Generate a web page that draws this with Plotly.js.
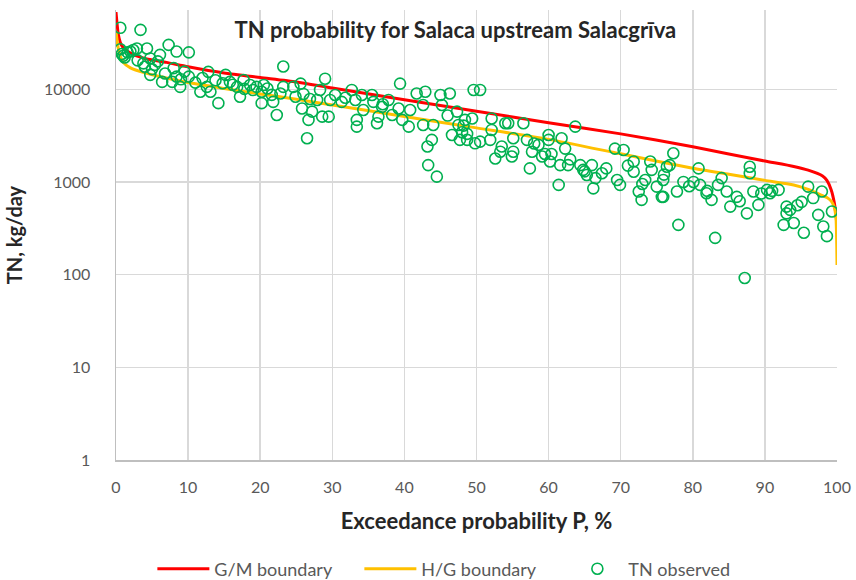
<!DOCTYPE html>
<html>
<head>
<meta charset="utf-8">
<script src="https://cdn.plot.ly/plotly-3.0.1.min.js"></script>
<style>
  html, body { margin: 0; padding: 0; background: #ffffff; }
  #chart { width: 856px; height: 580px; }
</style>
</head>
<body>
<div id="chart"></div>
<script>
// Exceedance probability (%) grid for the two boundary curves
const boundaryP = [0, 0.3, 0.6, 1, 2, 4, 7, 10, 15, 20, 25, 30, 40, 50, 60, 70, 80, 85, 90, 94, 96, 98, 98.6, 99.2, 99.6, 99.85, 100];

// G/M boundary, TN kg/day
const gmBoundary = [68000, 40000, 32000, 28000, 24500, 21500, 19500, 17500, 15000, 13400, 12000, 10300, 7700, 5800, 4350, 3300, 2400, 2000, 1680, 1470, 1340, 1160, 1040, 820, 610, 450, 330];

// H/G boundary, TN kg/day
const hgBoundary = [42000, 28000, 22500, 19500, 17000, 15000, 13200, 11800, 10200, 8900, 7800, 6770, 5090, 3830, 2880, 2010, 1406, 1210, 1040, 927, 830, 710, 680, 620, 540, 420, 127];

// Observed TN loads: exceedance probability (%) and TN (kg/day)
const obsP = [
  0.6, 3.4, 0.6, 0.8, 2.0, 2.9, 4.3, 4.75, 5.4, 6.1, 7.3, 8.4, 10.1, 4.75, 6.4, 8.0, 8.4, 7.8, 8.9, 10.1,
  11.7, 12.8, 12.6, 13.1, 14.2, 15.2, 15.8, 16.8, 17.2, 17.7, 18.6, 19.5, 20.2, 20.5, 21.6, 20.2, 21.8, 22.3, 23.2, 23.2,
  24.6, 24.9, 1.2, 1.6, 3.0, 3.8, 5.0, 5.8, 6.8, 9.5, 11.0, 13.8, 16.2, 19.0, 21.0, 22.8,
  25.6, 25.8, 26.9, 27.2, 26.7, 26.5, 27.9, 28.3, 29.0, 28.6, 29.5, 29.7, 30.4, 31.3, 32.7, 33.2, 33.4, 33.4, 34.1, 34.3,
  35.5, 35.7, 36.2, 36.4, 36.9, 37.8, 38.3, 39.2, 39.4, 39.7, 40.6, 40.8, 41.7, 42.6, 42.9, 42.6, 43.2, 43.8, 43.3, 44.5,
  44.0, 45.0, 45.2, 46.3, 46.6, 47.3, 47.5, 47.7, 48.0, 48.4, 48.7, 48.7, 49.4, 49.6, 49.8, 50.5, 50.5,
  52.1, 52.1, 51.9, 54.0, 54.4, 53.5, 52.6, 53.3, 55.1, 55.1, 54.9, 56.5, 57.0, 57.7, 57.4, 58.6, 59.1, 60.0, 60.0, 60.4,
  60.2, 61.4, 61.8, 62.3, 61.6, 62.7, 63.7, 64.4, 64.8, 65.3, 66.0, 66.2, 67.4, 69.5, 69.9, 69.2, 70.4, 71.8, 71.8, 72.5,
  72.9, 73.4, 74.1, 74.3, 75.0, 75.7, 75.9, 76.4, 77.3, 76.8, 75.9, 77.8, 78.7, 78.0, 80.1, 80.8, 81.0, 81.9, 82.6, 83.1,
  83.5, 84.0, 84.7, 85.2, 86.1, 87.5, 87.2, 87.9, 87.9, 88.4, 89.1, 90.3, 90.7, 91.9, 93.0, 93.0, 93.5, 92.6, 94.0, 95.1,
  95.4, 96.0, 96.7, 97.4, 97.9, 98.1, 98.6, 99.3,
  58.0, 59.5, 63.0, 65.0, 66.5, 68.0, 71.0, 73.0, 76.0, 79.5, 82.0, 86.5, 89.5, 91.0, 94.5,
  1.0, 2.4, 4.0, 9.0, 12.0, 14.8, 17.8, 26.0, 31.8, 37.0, 46.0, 48.2
];
const obsTN = [
  46000, 43700, 27000, 24000, 25500, 27500, 27500, 21500, 18300, 23500, 30100, 25500, 25000, 14300, 12000, 16900, 13700, 12000, 10600, 13700,
  9400, 15400, 10600, 9400, 7080, 14300, 12000, 10600, 8300, 12600, 11100, 10600, 9400, 11100, 8700, 7080, 7300, 5280, 17600, 10600,
  10600, 8300, 22000, 25000, 20500, 19000, 16500, 20000, 14800, 15500, 11800, 12500, 11200, 9800, 10200, 9000,
  11500, 6200, 7850, 5730, 4670, 2960, 7670, 9830, 13000, 5060, 5060, 7670, 8680, 7300, 9830, 7670, 4670, 3950, 8680, 5980,
  8680, 7300, 4300, 5060, 6460, 7670, 5280, 6200, 11500, 4670, 3950, 5980, 8990, 4120, 9400, 6770, 2410, 2840, 1520, 1140,
  4120, 8680, 6770, 8990, 3210, 5730, 4120, 2840, 3440, 4670, 3300, 2840, 4840, 9830, 2610, 9830, 2720,
  4840, 3640, 2840, 4300, 4300, 2410, 1790, 2120, 2960, 2120, 1880, 4300, 2840, 2120, 1400, 2510, 1880, 3210, 2840, 2000,
  1660, 929, 2960, 2290, 1520, 1520, 3950, 1520, 1350, 1190, 1520, 853, 1240, 1050, 929, 2290, 2210, 1660, 1290, 788,
  640, 1050, 1660, 1350, 890, 690, 1050, 1460, 2040, 1520, 690, 788, 1000, 344, 1000, 1400, 929, 755, 640, 249,
  929, 1100, 788, 542, 690, 458, 92, 1460, 1240, 788, 565, 820, 755, 820, 542, 458, 499, 344, 361, 610,
  283, 890, 670, 441, 788, 330, 260, 480,
  2600, 2000, 1750, 1300, 1100, 1400, 1500, 950, 1200, 900, 800, 620, 750, 800, 560,
  23000, 26500, 17500, 12800, 13200, 11600, 10100, 8900, 8100, 6900, 5200, 4050
];

const labelFont = 'Lato, "Open Sans", "DejaVu Sans", sans-serif';

const traces = [
  {
    x: boundaryP, y: gmBoundary, name: 'G/M boundary',
    type: 'scatter', mode: 'lines', line: { color: '#ff0000', width: 3, shape: 'spline', smoothing: 0.6 }
  },
  {
    x: boundaryP, y: hgBoundary, name: 'H/G boundary',
    type: 'scatter', mode: 'lines', line: { color: '#ffc000', width: 3, shape: 'spline', smoothing: 0.6 }
  },
  {
    x: obsP, y: obsTN, name: 'TN observed',
    type: 'scatter', mode: 'markers',
    marker: { symbol: 'circle-open', size: 11, color: '#00b050', line: { width: 1.6, color: '#00b050' } }
  }
];

const layout = {
  width: 856, height: 580,
  paper_bgcolor: '#ffffff', plot_bgcolor: '#ffffff',
  margin: { l: 116, r: 19, t: 10, b: 120 },
  font: { family: labelFont, color: '#595959', size: 16 },
  title: {
    text: '<b>TN probability for Salaca upstream Salacgrīva</b>',
    font: { family: labelFont, size: 22, color: '#262626' },
    xref: 'container', yref: 'container', x: 0.532, y: 0.948, xanchor: 'center', yanchor: 'middle'
  },
  xaxis: {
    range: [0, 100], dtick: 10, tick0: 0,
    showgrid: true, gridcolor: '#d9d9d9', gridwidth: 1.5,
    showline: true, linecolor: '#bfbfbf', linewidth: 1.5, mirror: false,
    zeroline: false, ticks: '', ticklabelstandoff: 12,
    tickfont: { family: labelFont, size: 16, color: '#595959' },
    title: { text: '<b>Exceedance probability P, %</b>', font: { family: labelFont, size: 22, color: '#262626' }, standoff: 19 }
  },
  yaxis: {
    type: 'log', range: [0, 4.855],
    tickvals: [1, 10, 100, 1000, 10000], ticktext: ['1', '10', '100', '1000', '10000'],
    showgrid: true, gridcolor: '#d9d9d9', gridwidth: 1.5,
    showline: true, linecolor: '#bfbfbf', linewidth: 1.5,
    zeroline: false, ticks: '', ticklabelstandoff: 21,
    tickfont: { family: labelFont, size: 16, color: '#595959' },
    title: { text: '<b>TN, kg/day</b>', font: { family: labelFont, size: 20, color: '#262626' }, standoff: 16 }
  },
  showlegend: true,
  legend: {
    orientation: 'h', xref: 'container', yref: 'container',
    x: 0.178, y: 0.019, xanchor: 'left', yanchor: 'middle',
    itemwidth: 52,
    entrywidth: 140, entrywidthmode: 'pixels',
    font: { family: labelFont, size: 18, color: '#595959' },
    bgcolor: 'rgba(0,0,0,0)'
  }
};

Plotly.newPlot('chart', traces, layout, { displayModeBar: false, staticPlot: true });
</script>
</body>
</html>
